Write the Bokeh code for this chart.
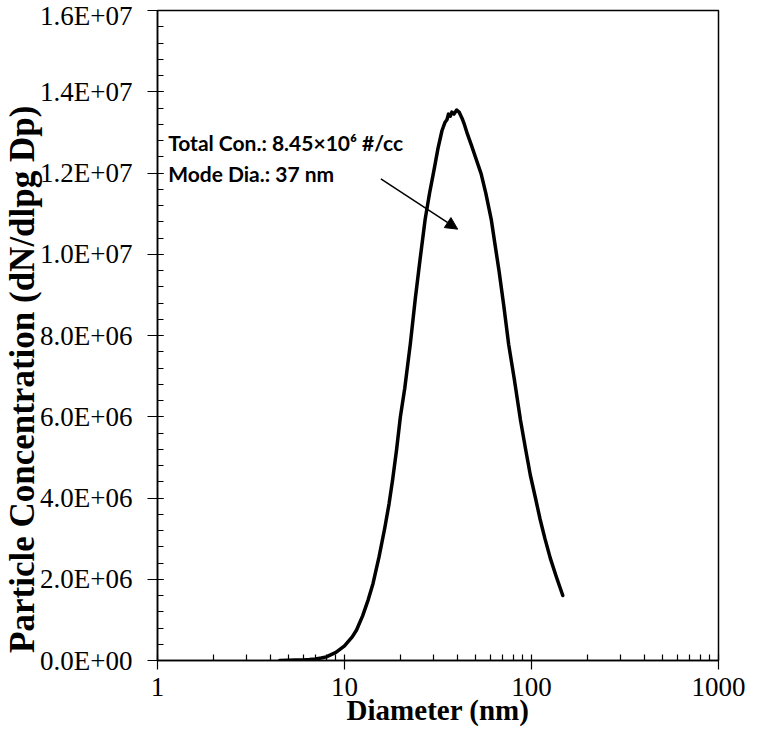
import math
from bokeh.plotting import figure
from bokeh.models import Range1d, FixedTicker, Label, Arrow, NormalHead
from bokeh.embed import file_html
from bokeh.resources import INLINE

# ---- data ----
diameter_nm = [4.5, 5.0, 5.5, 6.0, 6.5, 7.0, 7.5, 8.0, 9.0, 10.0, 11.0, 11.6, 12.5, 13.4,
               14.2, 15.3, 16.4, 17.3, 18.1, 19.0, 19.9, 21.0, 22.5, 23.9, 25.4, 27.0,
               28.5, 30.1, 31.6, 33.2, 34.5, 35.3, 36.0, 36.8, 37.5, 38.5, 39.8, 41.0,
               42.5, 43.8, 45.5, 47.6, 50.5, 53.8, 57.0, 60.9, 64.0, 67.0, 71.0, 75.5,
               81.0, 87.3, 93.0, 98.6, 105, 111, 118, 126, 136, 147]
concentration = [0, 5e3, 1e4, 1.5e4, 2.5e4, 4e4, 6e4, 9e4, 2e5, 3.6e5, 5.8e5, 7.5e5, 1.1e6,
                 1.5e6, 1.89e6, 2.55e6, 3.25e6, 3.85e6, 4.46e6, 5.2e6, 6.0e6, 6.7e6, 7.8e6,
                 8.9e6, 9.9e6, 1.086e7, 1.15e7, 1.207e7, 1.26e7, 1.304e7, 1.325e7, 1.331e7,
                 1.345e7, 1.34e7, 1.35e7, 1.345e7, 1.355e7, 1.35e7, 1.335e7, 1.319e7,
                 1.295e7, 1.27e7, 1.235e7, 1.198e7, 1.15e7, 1.086e7, 1.02e7, 9.6e6, 8.75e6,
                 7.78e6, 6.91e6, 5.92e6, 5.2e6, 4.56e6, 4.0e6, 3.49e6, 3.0e6, 2.52e6,
                 2.05e6, 1.6e6]

x_ticks = [1, 10, 100, 1000]
x_tick_labels = ["1", "10", "100", "1000"]
x_minor_ticks = [2, 3, 4, 5, 6, 7, 8, 9, 20, 30, 40, 50, 60, 70, 80, 90,
                 200, 300, 400, 500, 600, 700, 800, 900]
y_ticks = [0, 2000000, 4000000, 6000000, 8000000, 10000000, 12000000, 14000000, 16000000]
y_tick_labels = ["0.0E+00", "2.0E+06", "4.0E+06", "6.0E+06", "8.0E+06",
                 "1.0E+07", "1.2E+07", "1.4E+07", "1.6E+07"]
y_minor_ticks = [i * 400000 for i in range(41)]

x_title = "Diameter (nm)"
y_title = "Particle Concentration (dN/dlpg Dp)"
note_lines = ["Total Con.: 8.45\u00d710\u2076 #/cc", "Mode Dia.: 37 nm"]
note_x = 1.14
note_y = [1.275e7, 1.1976e7]
arrow_from = (15.65, 1.1855e7)
arrow_to = (40.3, 1.0618e7)

p = figure(width=745, height=737, x_axis_type="log",
           x_range=Range1d(1, 1000), y_range=Range1d(0, 1.6e7),
           output_backend="svg", toolbar_location=None,
           min_border_left=150, min_border_right=27, min_border_top=10,
           min_border_bottom=77, background_fill_color="white",
           border_fill_color="white")
p.grid.visible = False
p.outline_line_color = "black"
p.outline_line_width = 1.5

p.line(diameter_nm, concentration, line_color="black", line_width=3.5,
       line_join="round", line_cap="round")

# x axis
xa = p.xaxis[0]
xa.ticker = FixedTicker(ticks=x_ticks, minor_ticks=x_minor_ticks)
xa.major_label_overrides = {t: l for t, l in zip(x_ticks, x_tick_labels)}
xa.major_tick_out = 9
xa.major_tick_in = 6
xa.minor_tick_out = 0
xa.minor_tick_in = 6
xa.axis_line_width = 1.5
xa.major_tick_line_width = 1.2
xa.minor_tick_line_width = 1.2
xa.major_label_text_font = "Liberation Serif"
xa.major_label_text_font_size = "27px"
xa.major_label_text_color = "black"
xa.major_label_standoff = 8
xa.axis_label = x_title
xa.axis_label_text_font = "Liberation Serif"
xa.axis_label_text_font_style = "bold"
xa.axis_label_text_font_size = "29px"
xa.axis_label_text_color = "black"
xa.axis_label_standoff = -5

# y axis (title sits lower than the frame centre, as in the reference)
ya = p.yaxis[0]
ya.ticker = FixedTicker(ticks=y_ticks, minor_ticks=y_minor_ticks)
ya.major_label_overrides = {t: l for t, l in zip(y_ticks, y_tick_labels)}
ya.major_tick_out = 10
ya.major_tick_in = 6
ya.minor_tick_out = 0
ya.minor_tick_in = 6
ya.axis_line_width = 1.5
ya.major_tick_line_width = 1.2
ya.minor_tick_line_width = 1.2
ya.major_label_text_font = "Liberation Serif"
ya.major_label_text_font_size = "27px"
ya.major_label_text_color = "black"
ya.major_label_standoff = 15
ya.axis_label = y_title + "\u00a0" * 10
ya.axis_label_text_font = "Liberation Serif"
ya.axis_label_text_font_style = "bold"
ya.axis_label_text_font_size = "35px"
ya.axis_label_text_color = "black"
ya.axis_label_standoff = -5

for txt, yy in zip(note_lines, note_y):
    p.add_layout(Label(x=note_x, y=yy, text=txt, text_align="left",
                       text_baseline="alphabetic", text_font="Lato",
                       text_font_style="bold", text_font_size="21px",
                       text_color="black"))

p.add_layout(Arrow(end=NormalHead(size=12, fill_color="black", line_color="black"),
                   x_start=arrow_from[0], y_start=arrow_from[1],
                   x_end=arrow_to[0], y_end=arrow_to[1],
                   line_color="black", line_width=1.5))

open("out.html", "w").write(file_html(p, INLINE))
